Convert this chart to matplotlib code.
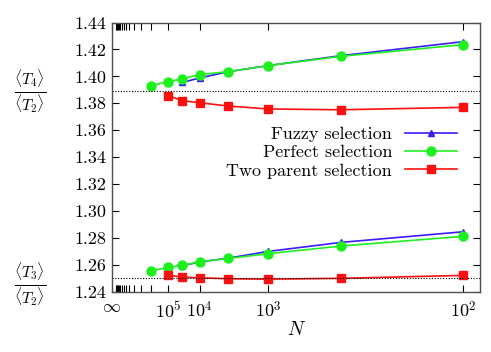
import numpy as np
import matplotlib
matplotlib.use("Agg")
import matplotlib.pyplot as plt
import matplotlib.transforms as mtrans

plt.rcParams['font.family'] = ['cmr10', 'DejaVu Serif']
plt.rcParams['mathtext.fontset'] = 'cm'
plt.rcParams['axes.formatter.use_mathtext'] = True

# N values of the points (x axis is 1/(log10 N)^2)
N_fuzzy = [3e4, 1e4, 3e3, 1e3, 3e2, 1e2]
N_perfect = [1e6, 1e5, 3e4, 1e4, 3e3, 1e3, 3e2, 1e2]
N_two = [1e5, 3e4, 1e4, 3e3, 1e3, 3e2, 1e2]

# <T4>/<T2>
t4_fuzzy = [1.3955, 1.3988, 1.4035, 1.4080, 1.4154, 1.4258]
t4_perfect = [1.3931, 1.3961, 1.3981, 1.4013, 1.4035, 1.4080, 1.4149, 1.4236]
t4_two = [1.3857, 1.3820, 1.3804, 1.3780, 1.3758, 1.3752, 1.3770]

# <T3>/<T2>
t3_fuzzy = [1.2593, 1.2622, 1.2650, 1.2700, 1.2767, 1.2846]
t3_perfect = [1.2556, 1.2581, 1.2596, 1.2623, 1.2648, 1.2683, 1.2740, 1.2812]
t3_two = [1.2524, 1.2509, 1.2504, 1.2497, 1.2494, 1.2500, 1.2522]

limit_t4 = 25 / 18
limit_t3 = 1.25

xtick_k = [0, 5, 4, 3, 2]     # log10 N of labelled ticks, 0 -> infinity
xtick_labels = [r'$\infty$', r'$10^5$', r'$10^4$', r'$10^3$', r'$10^2$']


def xpos(n):
    return 1.0 / np.log10(np.asarray(n)) ** 2


fig = plt.figure(figsize=(4.91, 3.52), dpi=100)
ax = fig.add_axes([0.228, 0.171, 0.750, 0.765])

blue = '#3a1cff'
green = '#1ef01e'
red = '#ff1010'

for nn, t4, t3, col, mk, ms, lab in [
        (N_fuzzy, t4_fuzzy, t3_fuzzy, blue, '^', 5, 'Fuzzy selection'),
        (N_perfect, t4_perfect, t3_perfect, green, 'o', 6.5, 'Perfect selection'),
        (N_two, t4_two, t3_two, red, 's', 6, 'Two parent selection')]:
    ax.plot(xpos(nn), t4, color=col, marker=mk, ms=ms, lw=1.2, label=lab)
    ax.plot(xpos(nn), t3, color=col, marker=mk, ms=ms, lw=1.2)

ax.axhline(limit_t4, color='black', ls=(0, (1, 1.5)), lw=0.8)
ax.axhline(limit_t3, color='black', ls=(0, (1, 1.5)), lw=0.8)

ax.set_xlim(0, 0.262)
ax.set_ylim(1.24, 1.44)
ax.set_yticks(np.arange(1.24, 1.4401, 0.02))
ax.set_yticklabels(['%.2f' % v for v in np.arange(1.24, 1.4401, 0.02)])

ax.set_xticks([0 if k == 0 else 1.0 / k ** 2 for k in xtick_k])
ax.set_xticklabels(xtick_labels)
ax.set_xticks([1.0 / k ** 2 for k in range(6, 19)], minor=True)
ax.tick_params(which='both', direction='in', top=True, right=True,
               length=5, width=0.8, labelsize=13, pad=6)
ax.tick_params(axis='y', pad=4)
for s in ax.spines.values():
    s.set_color('#505050')
    s.set_linewidth(1.0)

ax.set_xlabel('$N$', fontsize=14, labelpad=0)

tr = mtrans.blended_transform_factory(ax.transAxes, ax.transData)
ax.text(-0.223, 1.389, r'$\frac{\langle T_4\rangle}{\langle T_2\rangle}$',
        transform=tr, ha='center', va='center', fontsize=16)
ax.text(-0.223, 1.2455, r'$\frac{\langle T_3\rangle}{\langle T_2\rangle}$',
        transform=tr, ha='center', va='center', fontsize=16)

ax.legend(loc='upper right', bbox_to_anchor=(0.9375, 0.615), frameon=False,
          markerfirst=False, fontsize=13, handlelength=2.9, handletextpad=0.7,
          labelspacing=0.15, borderpad=0, borderaxespad=0)

fig.savefig('out.png', dpi=100)
